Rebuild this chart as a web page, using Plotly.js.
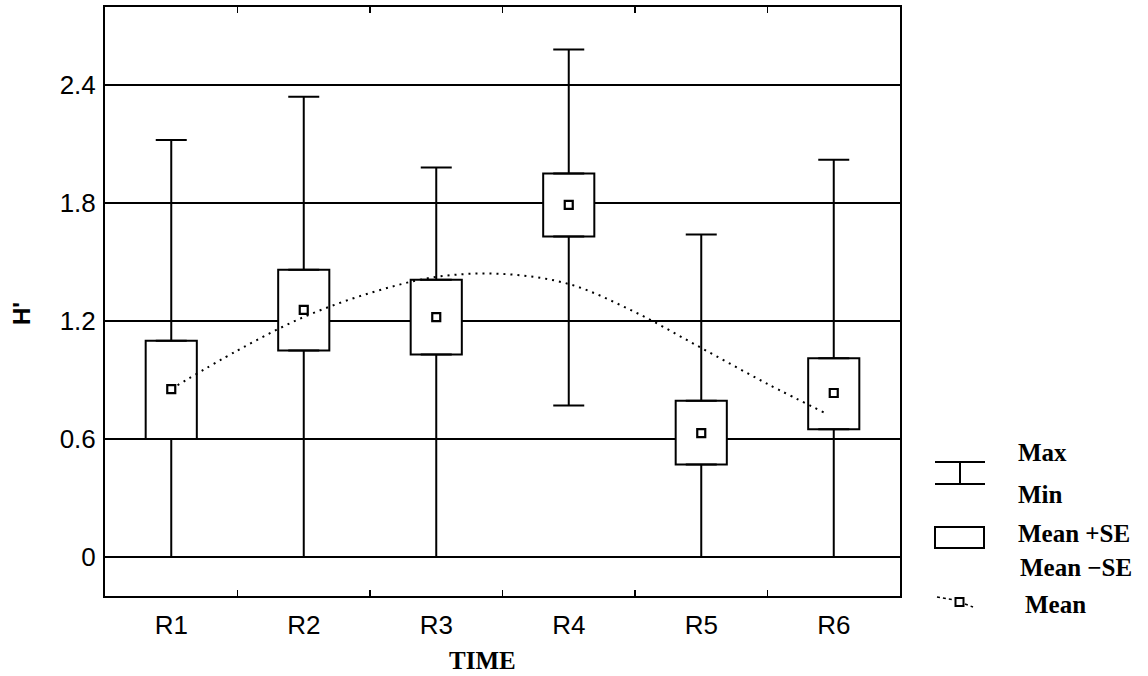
<!DOCTYPE html>
<html>
<head>
<meta charset="utf-8">
<script src="https://cdn.plot.ly/plotly-3.0.1.min.js"></script>
<style>html,body{margin:0;padding:0;background:#fff;}#chart{width:1148px;height:676px;}</style>
</head>
<body>
<div id="chart"></div>
<script>
// ---- data ----
const categories = ['R1', 'R2', 'R3', 'R4', 'R5', 'R6'];
const maxVals   = [2.12, 2.34, 1.98, 2.58, 1.64, 2.02];
const minVals   = [0.00, 0.00, 0.00, 0.77, 0.00, 0.00];
const seUpper   = [1.10, 1.46, 1.41, 1.95, 0.795, 1.01];
const seLower   = [0.60, 1.05, 1.03, 1.63, 0.47, 0.65];
const meanVals  = [0.854, 1.256, 1.22, 1.79, 0.63, 0.834];
// dotted fitted curve (position in category units, value)
const curveX = [0, 0.5, 1, 1.5, 2, 2.5, 3, 3.5, 4, 4.5, 4.95];
const curveY = [0.854, 1.05, 1.22, 1.342, 1.424, 1.439, 1.388, 1.245, 1.063, 0.88, 0.727];
const yTicks = [0, 0.6, 1.2, 1.8, 2.4];
const yTickText = ['0', '0.6', '1.2', '1.8', '2.4'];
const legendLabels = ['Max', 'Min', 'Mean +SE', 'Mean \u2212SE', 'Mean'];

// ---- derived ----
const xIdx = categories.map((c, i) => i);
const boxHeight = seUpper.map((u, i) => u - seLower[i]);
const upWhisker = maxVals.map((m, i) => m - seUpper[i]);
const lowWhisker = seLower.map((l, i) => l - minVals[i]);
const zeros = categories.map(() => 0);

// layout geometry helpers (pixels -> paper)
const ML = 105, MR = 248, MT = 7, MB = 80, W = 1148, H = 676;
const PW = W - ML - MR, PH = H - MT - MB;
const px = x => (x - ML) / PW;
const py = y => (H - MB - y) / PH;

const traces = [
  { // boxes Mean +/- SE
    type: 'bar', x: xIdx, y: boxHeight, base: seLower, width: 0.386,
    marker: { color: '#ffffff', line: { color: '#000', width: 2 } },
    hoverinfo: 'skip', showlegend: false
  },
  { // upper whisker
    type: 'scatter', mode: 'markers', x: xIdx, y: seUpper,
    marker: { size: 1, color: 'rgba(0,0,0,0)' },
    error_y: { type: 'data', symmetric: false, array: upWhisker, arrayminus: zeros,
               color: '#000', thickness: 2, width: 15.5 },
    hoverinfo: 'skip', showlegend: false
  },
  { // lower whisker
    type: 'scatter', mode: 'markers', x: xIdx, y: seLower,
    marker: { size: 1, color: 'rgba(0,0,0,0)' },
    error_y: { type: 'data', symmetric: false, array: zeros, arrayminus: lowWhisker,
               color: '#000', thickness: 2, width: 15.5 },
    hoverinfo: 'skip', showlegend: false
  },
  { // dotted curve
    type: 'scatter', mode: 'lines', x: curveX, y: curveY,
    line: { color: '#000', width: 2, dash: '2px,5px', shape: 'spline' },
    hoverinfo: 'skip', showlegend: false
  },
  { // mean markers
    type: 'scatter', mode: 'markers', x: xIdx, y: meanVals,
    marker: { symbol: 'square', size: 8, color: '#fff', line: { color: '#000', width: 2.2 } },
    showlegend: false
  }
];

const serif = { family: 'Liberation Serif, Times New Roman, serif', size: 25, color: '#000', weight: 'bold' };
const legY = [452, 494, 533, 567, 604];
const legX = [1016, 1016, 1016, 1018, 1023];

const annotations = legendLabels.map((t, i) => ({
  xref: 'paper', yref: 'paper', x: px(legX[i]), y: py(legY[i]),
  xanchor: 'left', yanchor: 'middle', showarrow: false,
  text: '<b>' + t + '</b>', font: serif
}));
annotations.push({
  xref: 'paper', yref: 'paper', x: px(482), y: py(660), xanchor: 'center', yanchor: 'middle',
  showarrow: false, text: '<b>TIME</b>', font: serif
});
annotations.push({
  xref: 'paper', yref: 'paper', x: px(22), y: py(314), xanchor: 'center', yanchor: 'middle',
  showarrow: false, textangle: -90, text: "<b>H'</b>",
  font: { family: 'Liberation Sans, Arial, sans-serif', size: 24, color: '#000' }
});

const lineStyle = { color: '#000', width: 2 };
const shapes = [
  // errorbar symbol
  { type: 'line', xref: 'paper', yref: 'paper', x0: px(935), x1: px(985), y0: py(462), y1: py(462), line: lineStyle },
  { type: 'line', xref: 'paper', yref: 'paper', x0: px(935), x1: px(985), y0: py(484), y1: py(484), line: lineStyle },
  { type: 'line', xref: 'paper', yref: 'paper', x0: px(960), x1: px(960), y0: py(462), y1: py(484), line: lineStyle },
  // box symbol
  { type: 'rect', xref: 'paper', yref: 'paper', x0: px(935), x1: px(984), y0: py(527), y1: py(548), line: lineStyle, fillcolor: '#fff' },
  // mean symbol
  { type: 'line', xref: 'paper', yref: 'paper', x0: px(937), x1: px(954), y0: py(597), y1: py(600), line: { color: '#000', width: 1.5, dash: 'dot' } },
  { type: 'line', xref: 'paper', yref: 'paper', x0: px(965), x1: px(973), y0: py(604), y1: py(607), line: { color: '#000', width: 1.5, dash: 'dot' } },
  { type: 'rect', xref: 'paper', yref: 'paper', x0: px(955.5), x1: px(963.5), y0: py(598), y1: py(606), line: lineStyle, fillcolor: '#fff' }
];

const layout = {
  width: W, height: H,
  margin: { l: ML, r: MR, t: MT, b: MB, pad: 0 },
  paper_bgcolor: '#fff', plot_bgcolor: '#fff',
  showlegend: false,
  bargap: 0,
  xaxis: {
    range: [-0.5, 5.5], tickvals: xIdx, ticktext: categories, ticks: '',
    showgrid: false, zeroline: false, showline: true, linecolor: '#000', linewidth: 2, mirror: 'ticks',
    tickfont: { family: 'Liberation Sans, Arial, sans-serif', size: 26, color: '#000' },
    ticklabelstandoff: 5,
    minor: { tickvals: [0.5, 1.5, 2.5, 3.5, 4.5], ticks: 'inside', ticklen: 6, tickwidth: 1.5, tickcolor: '#000', showgrid: false },
    fixedrange: true
  },
  yaxis: {
    range: [-0.198, 2.796], tickvals: yTicks, ticktext: yTickText, ticks: '',
    showgrid: true, gridcolor: '#000', gridwidth: 2, zeroline: false,
    showline: true, linecolor: '#000', linewidth: 2, mirror: true,
    tickfont: { family: 'Liberation Sans, Arial, sans-serif', size: 26, color: '#000' },
    ticklabelstandoff: 2,
    fixedrange: true
  },
  annotations: annotations,
  shapes: shapes
};

Plotly.newPlot('chart', traces, layout, { staticPlot: true, displayModeBar: false });
</script>
</body>
</html>
